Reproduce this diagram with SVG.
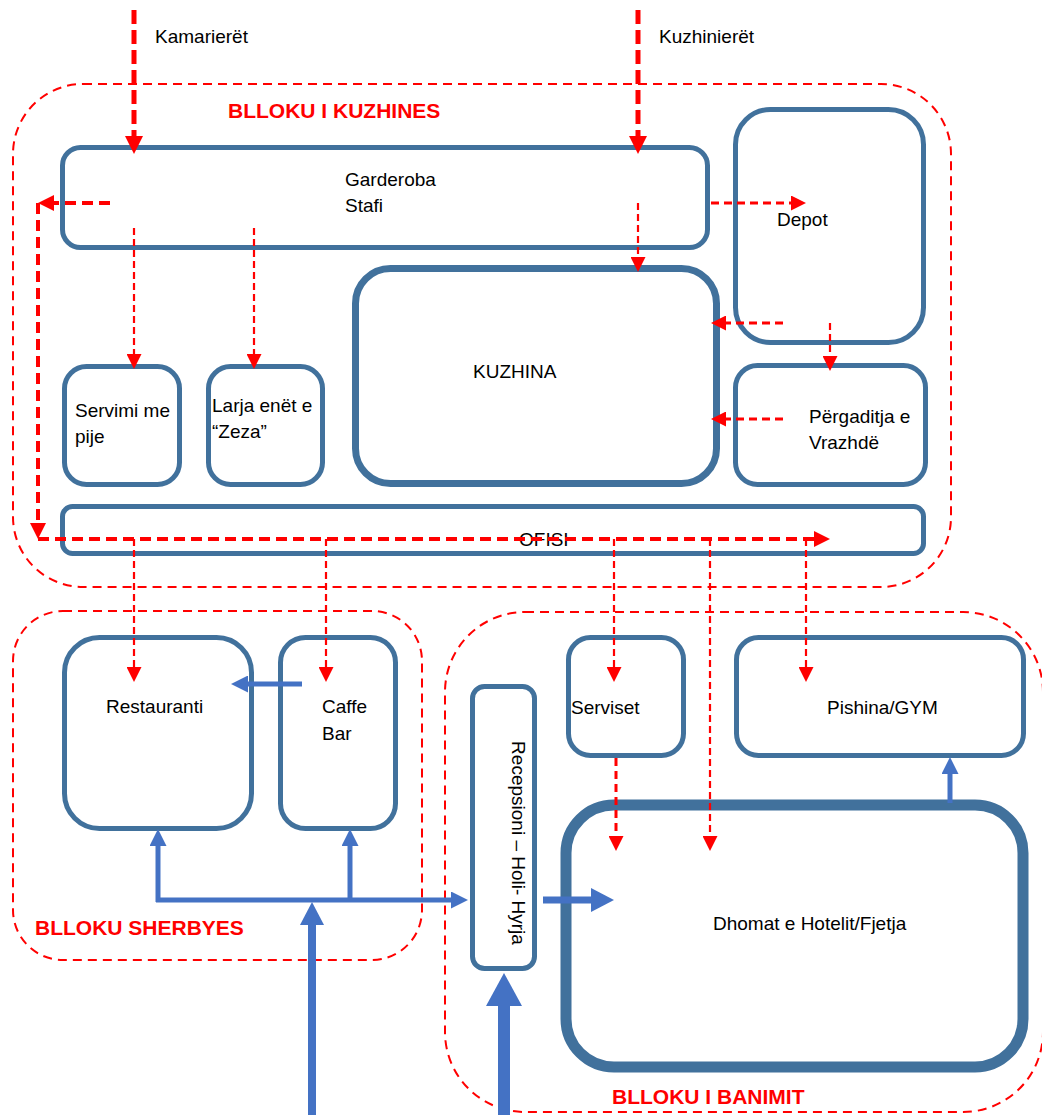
<svg xmlns="http://www.w3.org/2000/svg" width="1042" height="1115" viewBox="0 0 1042 1115">
<style>
  .zone{fill:none;stroke:#FF0000;stroke-width:2;stroke-dasharray:9 6}
  .box{fill:#FFFFFF;stroke:#41719C;stroke-width:5}
  .t{font-family:"Liberation Sans",Arial,sans-serif;font-size:19px;fill:#000000}
  .zt{font-family:"Liberation Sans",Arial,sans-serif;font-size:21px;font-weight:bold;fill:#FF0000}
  .rL{fill:none;stroke:#FF0000;stroke-width:5;stroke-dasharray:14 6}
  .rM{fill:none;stroke:#FF0000;stroke-width:4;stroke-dasharray:11 6}
  .rS{fill:none;stroke:#FF0000;stroke-width:2.2;stroke-dasharray:7 4}
  .rS3{fill:none;stroke:#FF0000;stroke-width:3;stroke-dasharray:8 5}
  .b{fill:none;stroke:#4472C4}
</style>
<defs>
  <marker id="mRL" markerUnits="userSpaceOnUse" markerWidth="18" markerHeight="18" refX="0" refY="9" orient="auto"><path d="M0,0 L18,9 L0,18 Z" fill="#FF0000"/></marker>
  <marker id="mRM" markerUnits="userSpaceOnUse" markerWidth="16" markerHeight="16" refX="0" refY="8" orient="auto"><path d="M0,0 L16,8 L0,16 Z" fill="#FF0000"/></marker>
  <marker id="mRS" markerUnits="userSpaceOnUse" markerWidth="15" markerHeight="15" refX="0" refY="7.5" orient="auto"><path d="M0,0 L15,7.5 L0,15 Z" fill="#FF0000"/></marker>
  <marker id="mBS" markerUnits="userSpaceOnUse" markerWidth="17" markerHeight="17" refX="0" refY="8.5" orient="auto"><path d="M0,0 L17,8.5 L0,17 Z" fill="#4472C4"/></marker>
  <marker id="mBM" markerUnits="userSpaceOnUse" markerWidth="24" markerHeight="24" refX="0" refY="12" orient="auto"><path d="M0,0 L23,12 L0,24 Z" fill="#4472C4"/></marker>
  <marker id="mBL" markerUnits="userSpaceOnUse" markerWidth="34" markerHeight="36" refX="0" refY="18" orient="auto"><path d="M0,0 L33,18 L0,36 Z" fill="#4472C4"/></marker>
</defs>

<g id="zones">
  <rect id="zone-kuzhines" class="zone" x="13" y="84" width="938" height="503" rx="70"/>
  <rect id="zone-sherbyes" class="zone" x="13" y="611" width="409" height="349" rx="50"/>
  <rect id="zone-banimit" class="zone" x="445" y="612" width="598" height="500" rx="80"/>
</g>

<g id="nodes">
  <g id="garderoba"><rect class="box" x="62.5" y="147.5" width="645" height="100" rx="18"/>
    <text class="t" x="345" y="186">Garderoba</text><text class="t" x="345" y="212">Stafi</text></g>
  <g id="depot"><rect class="box" x="735.5" y="109.5" width="188" height="233" rx="35"/>
    <text class="t" x="777" y="226">Depot</text></g>
  <g id="kuzhina"><rect class="box" style="stroke-width:7" x="355.5" y="268.5" width="361" height="215" rx="35"/>
    <text class="t" x="473" y="378">KUZHINA</text></g>
  <g id="servimi"><rect class="box" x="64.5" y="366.5" width="115" height="118" rx="22"/>
    <text class="t" x="75" y="417">Servimi me</text><text class="t" x="75" y="443">pije</text></g>
  <g id="larja"><rect class="box" x="208.5" y="366.5" width="114" height="118" rx="22"/>
    <text class="t" x="212" y="412">Larja enët e</text><text class="t" x="212" y="438">“Zeza”</text></g>
  <g id="pergaditja"><rect class="box" x="735.5" y="365.5" width="190" height="119" rx="22"/>
    <text class="t" x="809" y="423">Përgaditja e</text><text class="t" x="809" y="449">Vrazhdë</text></g>
  <g id="ofisi"><rect class="box" x="62.5" y="506.5" width="861" height="47" rx="10"/>
    <text class="t" x="519" y="546">OFISI</text></g>
  <g id="restauranti"><rect class="box" x="64.5" y="637.5" width="187" height="191" rx="35"/>
    <text class="t" x="106" y="713">Restauranti</text></g>
  <g id="caffebar"><rect class="box" x="280.5" y="637.5" width="115" height="191" rx="25"/>
    <text class="t" x="322" y="713">Caffe</text><text class="t" x="322" y="740">Bar</text></g>
  <g id="recepsioni"><rect class="box" x="472.5" y="686.5" width="62" height="282" rx="12"/>
    <text class="t" text-anchor="middle" transform="translate(512,843) rotate(90)">Recepsioni – Holi- Hyrja</text></g>
  <g id="serviset"><rect class="box" x="568.5" y="637.5" width="115" height="118" rx="22"/>
    <text class="t" x="571" y="714">Serviset</text></g>
  <g id="pishina"><rect class="box" x="736.5" y="637.5" width="287" height="118" rx="22"/>
    <text class="t" x="827" y="714">Pishina/GYM</text></g>
  <g id="dhomat"><rect class="box" style="stroke-width:11" x="566" y="805" width="457" height="262" rx="48"/>
    <text class="t" x="713" y="930">Dhomat e Hotelit/Fjetja</text></g>
</g>

<g id="connectors">
  <path class="rL" d="M134,10 V136" marker-end="url(#mRL)"/>
  <path class="rL" d="M638,10 V136" marker-end="url(#mRL)"/>
  <path class="rM" d="M110,203 H54" marker-end="url(#mRM)"/>
  <path class="rM" d="M38,203 V523" marker-end="url(#mRM)"/>
  <path class="rM" d="M38,539 H814" marker-end="url(#mRM)"/>
  <path class="rS" d="M134,228 V354" marker-end="url(#mRS)"/>
  <path class="rS" d="M254,228 V354" marker-end="url(#mRS)"/>
  <path class="rS" d="M638,203 V257" marker-end="url(#mRS)"/>
  <path class="rS3" d="M711,203 H791" marker-end="url(#mRS)"/>
  <path class="rS3" d="M783,323 H726" marker-end="url(#mRS)"/>
  <path class="rS" d="M830,323 V356" marker-end="url(#mRS)"/>
  <path class="rS3" d="M783,419 H726" marker-end="url(#mRS)"/>
  <path class="rS" d="M134,539 V667" marker-end="url(#mRS)"/>
  <path class="rS" d="M326,539 V667" marker-end="url(#mRS)"/>
  <path class="rS" d="M614,539 V667" marker-end="url(#mRS)"/>
  <path class="rS" d="M710,539 V836" marker-end="url(#mRS)"/>
  <path class="rS" d="M806,539 V667" marker-end="url(#mRS)"/>
  <path class="rS3" d="M616,758 V836" marker-end="url(#mRS)"/>

  <path class="b" stroke-width="5" d="M302,684 H248" marker-end="url(#mBS)"/>
  <path class="b" stroke-width="5" d="M156,900 H451" marker-end="url(#mBS)"/>
  <path class="b" stroke-width="5" d="M158,902 V846" marker-end="url(#mBS)"/>
  <path class="b" stroke-width="5" d="M350,900 V846" marker-end="url(#mBS)"/>
  <path class="b" stroke-width="8" d="M312,1115 V925" marker-end="url(#mBM)"/>
  <path class="b" stroke-width="7" d="M543,900 H591" marker-end="url(#mBM)"/>
  <path class="b" stroke-width="12" d="M504,1115 V1006" marker-end="url(#mBL)"/>
  <path class="b" stroke-width="5" d="M950,803 V774" marker-end="url(#mBS)"/>
</g>

<g id="labels">
  <text class="t" x="155" y="43">Kamarierët</text>
  <text class="t" x="659" y="43">Kuzhinierët</text>
  <text class="zt" x="228" y="118">BLLOKU I KUZHINES</text>
  <text class="zt" x="35" y="935">BLLOKU SHERBYES</text>
  <text class="zt" x="612" y="1104">BLLOKU I BANIMIT</text>
</g>
</svg>
